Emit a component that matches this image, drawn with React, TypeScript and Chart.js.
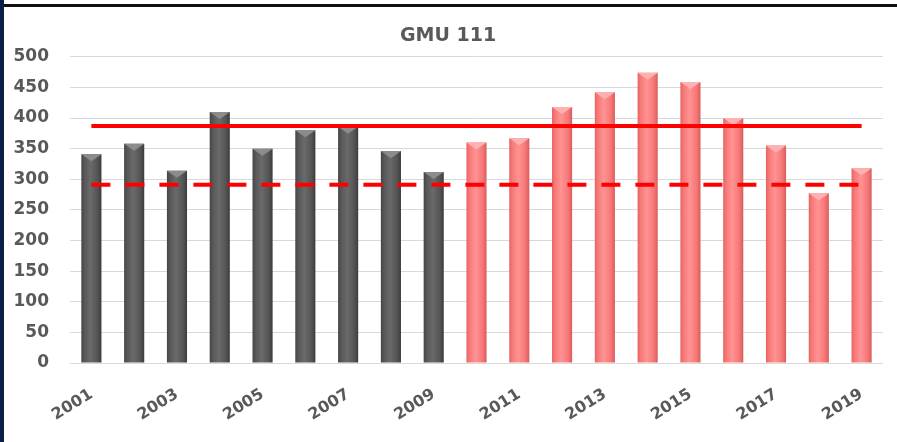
import React, { useEffect, useRef } from "react";
import { Chart, registerables } from "chart.js";

Chart.register(...registerables);

const years = [
  "2001", "2002", "2003", "2004", "2005", "2006", "2007", "2008", "2009", "2010",
  "2011", "2012", "2013", "2014", "2015", "2016", "2017", "2018", "2019",
];
const harvest = [341, 358, 314, 410, 350, 380, 386, 346, 312, 360, 367, 418, 442, 474, 459, 400, 355, 277, 318];
const recentAverage = [387, 387, 387, 387, 387, 387, 387, 387, 387, 387, 387, 387, 387, 387, 387, 387, 387, 387, 387];
const lowerLevel = [291, 291, 291, 291, 291, 291, 291, 291, 291, 291, 291, 291, 291, 291, 291, 291, 291, 291, 291];
const firstRecentYear = "2010";
const yTicks = [0, 50, 100, 150, 200, 250, 300, 350, 400, 450, 500];

const BAR_PCT = 0.47;
const FONT = "DejaVu Sans";
const TEXT = "#595959";

function isRecent(i: number) {
  return i >= years.indexOf(firstRecentYear);
}

export default function App() {
  const ref = useRef<HTMLCanvasElement | null>(null);

  useEffect(() => {
    if (!ref.current) return;

    const barFill = (ctx: any) => {
      const i = ctx.dataIndex;
      const recent = typeof i === "number" && isRecent(i);
      const base = recent ? "#ff8080" : "#5a5a5a";
      const chart = ctx.chart;
      const xs = chart.scales && chart.scales.x;
      if (typeof i !== "number" || !xs || !xs.width) return base;
      const cx = xs.getPixelForValue(i);
      const w = (xs.width / years.length) * BAR_PCT;
      const g = chart.ctx.createLinearGradient(cx - w / 2, 0, cx + w / 2, 0);
      if (recent) {
        g.addColorStop(0, "#e46464");
        g.addColorStop(0.15, "#f87878");
        g.addColorStop(0.45, "#ff9393");
        g.addColorStop(0.8, "#f77777");
        g.addColorStop(1, "#d85c5c");
      } else {
        g.addColorStop(0, "#444444");
        g.addColorStop(0.15, "#575757");
        g.addColorStop(0.45, "#6a6a6a");
        g.addColorStop(0.8, "#555555");
        g.addColorStop(1, "#3c3c3c");
      }
      return g;
    };

    const topCaps = {
      id: "topCaps",
      afterDatasetDraw(chart: any, args: any) {
        if (args.index !== 0) return;
        const c = chart.ctx;
        const meta = chart.getDatasetMeta(0);
        c.save();
        meta.data.forEach((el: any, i: number) => {
          const w = el.width;
          const h = w * 0.35;
          c.beginPath();
          c.moveTo(el.x - w / 2, el.y);
          c.lineTo(el.x + w / 2, el.y);
          c.lineTo(el.x, el.y + h);
          c.closePath();
          c.fillStyle = isRecent(i) ? "#ffb0b0" : "#8c8c8c";
          c.fill();
        });
        c.restore();
      },
    };

    const chart = new Chart(ref.current, {
      type: "bar",
      data: {
        labels: years,
        datasets: [
          {
            type: "bar",
            label: "Harvest",
            data: harvest,
            backgroundColor: barFill,
            borderWidth: 0,
            barPercentage: BAR_PCT,
            categoryPercentage: 1,
            order: 2,
          },
          {
            type: "line",
            label: "Average 2010-2019",
            data: recentAverage,
            borderColor: "#ff0000",
            borderWidth: 4,
            pointRadius: 0,
            fill: false,
            order: 1,
          },
          {
            type: "line",
            label: "Lower level",
            data: lowerLevel,
            borderColor: "#ff0000",
            borderWidth: 4,
            borderDash: [19, 15],
            pointRadius: 0,
            fill: false,
            order: 0,
          },
        ] as any,
      },
      plugins: [topCaps],
      options: {
        animation: false,
        responsive: false,
        devicePixelRatio: 1,
        layout: { padding: { left: 13, right: 14, top: 0, bottom: 7 } },
        plugins: {
          legend: { display: false },
          tooltip: { enabled: false },
          title: {
            display: true,
            text: "GMU 111",
            color: TEXT,
            font: { family: FONT, size: 19, weight: "bold" },
            padding: { top: 25, bottom: 9 },
          },
        },
        scales: {
          x: {
            offset: true,
            grid: { display: false, drawTicks: false },
            border: { display: false },
            afterFit: (axis: any) => {
              axis.paddingLeft = 0;
              axis.paddingRight = 0;
              axis.height = 72;
            },
            ticks: {
              autoSkip: false,
              minRotation: 32,
              maxRotation: 32,
              padding: 22,
              color: TEXT,
              font: { family: FONT, size: 16, weight: "bold" },
              callback: (_v: any, i: number) => (i % 2 === 0 ? years[i] : ""),
            },
          },
          y: {
            min: 0,
            max: 500,
            afterBuildTicks: (axis: any) => {
              axis.ticks = yTicks.map((v) => ({ value: v }));
            },
            afterFit: (axis: any) => {
              axis.width = 57;
            },
            grid: { color: "#d9d9d9", lineWidth: 1, drawTicks: false },
            border: { display: false },
            ticks: {
              padding: 21,
              color: TEXT,
              font: { family: FONT, size: 17, weight: "bold" },
            },
          },
        },
      },
    });
    return () => chart.destroy();
  }, []);

  return (
    <div style={{ position: "fixed", left: 0, top: 0, width: 897, height: 442, background: "#ffffff", overflow: "hidden" }}>
      <canvas ref={ref} width={897} height={442} style={{ position: "absolute", left: 0, top: 0, width: 897, height: 442 }} />
      <div style={{ position: "absolute", left: 0, top: 4, width: 897, height: 3, background: "#111111" }} />
      <div style={{ position: "absolute", left: 0, top: 0, width: 4, height: 442, background: "#0b1f45" }} />
    </div>
  );
}
